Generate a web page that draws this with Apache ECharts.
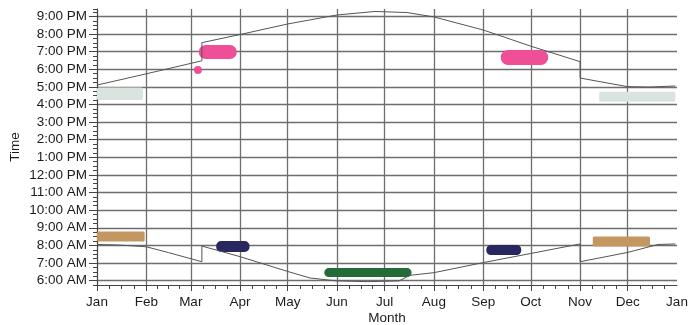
<!DOCTYPE html>
<html>
<head>
<meta charset="utf-8">
<script src="https://cdn.jsdelivr.net/npm/echarts@6/dist/echarts.min.js"></script>
<style>
  html, body { margin: 0; padding: 0; background: #fff; }
  #chart { width: 690px; height: 325px; }
</style>
</head>
<body>
<div id="chart"></div>
<script>
// Month boundaries (day of a non-leap year) and their tick labels
const monthStarts = [0, 31, 59, 90, 120, 151, 181, 212, 243, 273, 304, 334, 365];
const monthLabels = ['Jan', 'Feb', 'Mar', 'Apr', 'May', 'Jun', 'Jul', 'Aug', 'Sep', 'Oct', 'Nov', 'Dec', 'Jan'];

// Hour ticks (hours of the day) and their labels
const hourValues = [6, 7, 8, 9, 10, 11, 12, 13, 14, 15, 16, 17, 18, 19, 20, 21];
const hourLabels = ['6:00 AM', '7:00 AM', '8:00 AM', '9:00 AM', '10:00 AM', '11:00 AM', '12:00 PM',
  '1:00 PM', '2:00 PM', '3:00 PM', '4:00 PM', '5:00 PM', '6:00 PM', '7:00 PM', '8:00 PM', '9:00 PM'];

// Sunset time through the year (hours), with the daylight-saving jumps
const sunsetDates = ['01-01', '02-01', '03-08', '03-08', '04-01', '05-01', '06-01', '06-25', '07-15',
  '08-01', '09-01', '10-01', '11-01', '11-01', '12-01', '12-15', '12-31'];
const sunsetTimes = [17.10, 17.74, 18.48, 19.51, 19.97, 20.57, 21.08, 21.28, 21.22,
  20.97, 20.23, 19.31, 18.43, 17.50, 17.01, 16.99, 17.05];

// Sunrise time through the year (hours)
const sunriseDates = ['01-01', '01-15', '02-01', '02-15', '03-08', '03-08', '04-01', '05-01', '05-15',
  '06-01', '06-20', '07-10', '07-17', '08-01', '09-01', '10-01', '11-01', '11-01', '12-01', '12-20', '12-31'];
const sunriseTimes = [8.05, 8.02, 7.92, 7.59, 7.07, 7.96, 7.36, 6.52, 6.15,
  5.98, 5.94, 5.98, 6.30, 6.45, 7.02, 7.54, 8.08, 7.07, 7.60, 8.05, 8.08];

// Observation clusters: group, first date, last date, earliest and latest time (hours)
const clusterGroup = ['dusk', 'dusk', 'evening', 'evening', 'evening', 'morning', 'morning', 'dawn', 'dawn', 'summer'];
const clusterStart = ['01-01', '11-13', '03-06', '03-03', '09-12', '01-01', '11-09', '03-17', '09-03', '05-24'];
const clusterEnd   = ['01-30', '12-31', '03-30', '03-08', '10-12', '01-31', '12-15', '04-07', '09-25', '07-18'];
const clusterLow   = [16.25, 16.15, 18.58, 17.73, 18.24, 8.22, 7.93, 7.63, 7.45, 6.20];
const clusterHigh  = [16.97, 16.72, 19.38, 18.18, 19.09, 8.79, 8.50, 8.25, 8.02, 6.71];

// Drawing style of each cluster group
const groupStyle = {
  dusk:    { color: '#dae4de', round: 0.15 },
  evening: { color: '#ef4f96', round: 0.5 },
  morning: { color: '#c49660', round: 0.15 },
  dawn:    { color: '#28275f', round: 0.45 },
  summer:  { color: '#256b37', round: 0.5 }
};

function dayOfYear(mmdd) {
  const [m, d] = mmdd.split('-').map(Number);
  return monthStarts[m - 1] + d - 1;
}

function pairs(dates, times) {
  return dates.map((d, i) => [dayOfYear(d), times[i]]);
}

// Quarter-month minor ticks along the date axis
const minorDays = [];
for (let i = 0; i < 12; i++) {
  const len = monthStarts[i + 1] - monthStarts[i];
  for (let k = 1; k < 4; k++) minorDays.push(monthStarts[i] + len * k / 4);
}

const Y_MIN = 5.75, Y_MAX = 21.42;
const FONT = 'Liberation Sans, Arial, sans-serif';
const FONT_SIZE = 13.5;
const GRID_COLOR = '#6e6e6e';
const AXIS_COLOR = '#444';
const TEXT_COLOR = '#1c1c1c';

const clusterSeries = Object.keys(groupStyle).map(group => {
  const rows = [];
  clusterGroup.forEach((g, i) => {
    if (g === group) rows.push([dayOfYear(clusterStart[i]), dayOfYear(clusterEnd[i]), clusterLow[i], clusterHigh[i]]);
  });
  const st = groupStyle[group];
  return {
    type: 'custom',
    name: group,
    xAxisIndex: 0,
    yAxisIndex: 0,
    clip: true,
    z: 3,
    encode: { x: [0, 1], y: [2, 3] },
    data: rows,
    renderItem: function (params, api) {
      const p0 = api.coord([api.value(0), api.value(3)]);
      const p1 = api.coord([api.value(1), api.value(2)]);
      const w = p1[0] - p0[0];
      const h = p1[1] - p0[1];
      return {
        type: 'rect',
        shape: { x: p0[0], y: p0[1], width: w, height: h, r: Math.min(w, h) * st.round },
        style: { fill: st.color }
      };
    }
  };
});

const chart = echarts.init(document.getElementById('chart'), null, { renderer: 'canvas' });
chart.setOption({
  animation: false,
  backgroundColor: '#fff',
  grid: { left: 97, right: 13, top: 9, bottom: 40, containLabel: false, outerBoundsMode: 'none' },
  xAxis: [
    {
      type: 'value', min: 0, max: 365,
      name: 'Month', nameLocation: 'middle', nameGap: 26, nameMoveOverlap: false,
      nameTextStyle: { fontFamily: FONT, fontSize: FONT_SIZE, color: TEXT_COLOR },
      axisLine: { show: true, lineStyle: { color: AXIS_COLOR, width: 1 } },
      axisTick: { show: true, customValues: monthStarts.slice(0, 12), length: 6, lineStyle: { color: AXIS_COLOR } },
      axisLabel: {
        customValues: monthStarts, margin: 10, showMaxLabel: true, showMinLabel: true,
        fontFamily: FONT, fontSize: FONT_SIZE, color: TEXT_COLOR,
        formatter: v => monthLabels[monthStarts.indexOf(v)]
      },
      splitLine: { show: true, lineStyle: { color: GRID_COLOR, width: 1.3 } }
    },
    {
      type: 'value', min: 0, max: 365, position: 'bottom',
      axisLine: { show: false },
      axisTick: { show: true, customValues: minorDays, length: 4, lineStyle: { color: AXIS_COLOR } },
      axisLabel: { show: false },
      splitLine: { show: false }
    }
  ],
  yAxis: [
    {
      type: 'value', min: Y_MIN, max: Y_MAX,
      name: 'Time', nameLocation: 'middle', nameGap: 75, nameRotate: 90, nameMoveOverlap: false,
      nameTextStyle: { fontFamily: FONT, fontSize: FONT_SIZE, color: TEXT_COLOR },
      axisLine: { show: true, lineStyle: { color: AXIS_COLOR, width: 1 } },
      axisTick: { show: true, customValues: hourValues, length: 8, lineStyle: { color: AXIS_COLOR } },
      axisLabel: {
        customValues: hourValues, margin: 10,
        fontFamily: FONT, fontSize: FONT_SIZE, color: TEXT_COLOR,
        formatter: v => hourLabels[hourValues.indexOf(v)]
      },
      splitLine: { show: true, lineStyle: { color: GRID_COLOR, width: 1.3 } }
    },
    {
      type: 'value', min: Y_MIN, max: Y_MAX, interval: 0.25, position: 'left',
      axisLine: { show: false },
      axisTick: { show: true, length: 4, lineStyle: { color: AXIS_COLOR } },
      axisLabel: { show: false },
      splitLine: { show: false }
    }
  ],
  series: clusterSeries.concat([
    {
      type: 'line', name: 'Sunset', data: pairs(sunsetDates, sunsetTimes),
      showSymbol: false, symbol: 'none', z: 5,
      lineStyle: { color: '#555', width: 1 }
    },
    {
      type: 'line', name: 'Sunrise', data: pairs(sunriseDates, sunriseTimes),
      showSymbol: false, symbol: 'none', z: 5,
      lineStyle: { color: '#555', width: 1 }
    }
  ])
});
</script>
</body>
</html>
